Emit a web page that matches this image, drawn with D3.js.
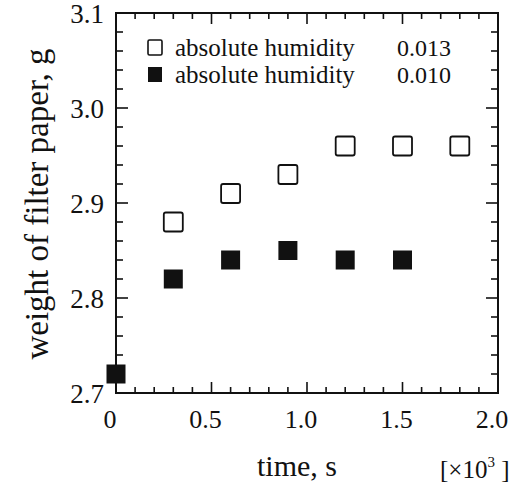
<!DOCTYPE html>
<html>
<head>
<meta charset="utf-8">
<script src="https://cdn.jsdelivr.net/npm/d3@7"></script>
<style>
  body { margin: 0; background: #fff; }
  text { font-family: "Liberation Serif", "Times New Roman", serif; fill: #111; }
</style>
</head>
<body>
<svg id="chart"></svg>
<script>
// data
const timeOpen = [0.3, 0.6, 0.9, 1.2, 1.5, 1.8];
const weightOpen = [2.88, 2.91, 2.93, 2.96, 2.96, 2.96];
const timeFilled = [0, 0.3, 0.6, 0.9, 1.2, 1.5];
const weightFilled = [2.72, 2.82, 2.84, 2.85, 2.84, 2.84];
const xTickLabels = ["0", "0.5", "1.0", "1.5", "2.0"];
const yTickLabels = ["2.7", "2.8", "2.9", "3.0", "3.1"];
const legendNames = ["absolute humidity", "absolute humidity"];
const legendValues = ["0.013", "0.010"];

const W = 523, H = 488;
const m = { left: 116, right: 25, top: 13, bottom: 95 };

const svg = d3.select("#chart").attr("width", W).attr("height", H);

const x = d3.scaleLinear().domain([0, 2.0]).range([m.left, W - m.right]);
const y = d3.scaleLinear().domain([2.7, 3.1]).range([H - m.bottom, m.top]);

const x0 = x.range()[0], x1 = x.range()[1];
const y0 = y.range()[0], y1 = y.range()[1];

// ----------------------- ticks (inward, on all four sides)
const xMinor = d3.range(0, 2.0001, 0.1);
const yMinor = d3.range(2.7, 3.1001, 0.02);
const isMajorX = v => Math.abs(v * 2 - Math.round(v * 2)) < 1e-6;
const isMajorY = v => Math.abs(v * 10 - Math.round(v * 10)) < 1e-6;

const ticks = svg.append("g").attr("stroke", "#111").attr("stroke-width", 1.6);

ticks.selectAll(".xb").data(xMinor).join("line")
  .attr("x1", d => x(d)).attr("x2", d => x(d))
  .attr("y1", y0).attr("y2", d => y0 - (isMajorX(d) ? 11 : 6));
ticks.selectAll(".xt").data(xMinor).join("line")
  .attr("x1", d => x(d)).attr("x2", d => x(d))
  .attr("y1", y1).attr("y2", d => y1 + (isMajorX(d) ? 11 : 6));
ticks.selectAll(".yl").data(yMinor).join("line")
  .attr("y1", d => y(d)).attr("y2", d => y(d))
  .attr("x1", x0).attr("x2", d => x0 + (isMajorY(d) ? 12 : 7));
ticks.selectAll(".yr").data(yMinor).join("line")
  .attr("y1", d => y(d)).attr("y2", d => y(d))
  .attr("x1", x1).attr("x2", d => x1 - (isMajorY(d) ? 12 : 7));

// frame
svg.append("rect")
  .attr("x", x0).attr("y", y1)
  .attr("width", x1 - x0).attr("height", y0 - y1)
  .attr("fill", "none").attr("stroke", "#111").attr("stroke-width", 2);

// ----------------------- tick labels
svg.append("g").selectAll("text").data(xTickLabels).join("text")
  .attr("x", d => x(+d) - 6)
  .attr("y", y0 + 35)
  .attr("text-anchor", "middle")
  .style("font-size", "26px")
  .text(d => d);

svg.append("g").selectAll("text").data(yTickLabels).join("text")
  .attr("x", x0 - 12)
  .attr("y", d => y(+d) + 10)
  .attr("text-anchor", "end")
  .style("font-size", "27px")
  .text(d => d);

// ----------------------- axis titles
svg.append("text")
  .attr("transform", `translate(48, ${(y0 + y1) / 2 + 1}) rotate(-90)`)
  .attr("text-anchor", "middle")
  .style("font-size", "33px")
  .text("weight of filter paper, g");

svg.append("text")
  .attr("x", 297).attr("y", 476)
  .attr("text-anchor", "middle")
  .style("font-size", "30px")
  .text("time, s");

const unit = svg.append("text")
  .attr("x", 440).attr("y", 478)
  .style("font-size", "25px");
unit.append("tspan").text("[×10");
unit.append("tspan").attr("dy", -11).style("font-size", "15px").text("3");
unit.append("tspan").attr("dy", 11).text(" ]");

// ----------------------- points
const sq = 19;
svg.append("g").selectAll("rect").data(timeOpen).join("rect")
  .attr("x", (d) => x(d) - sq / 2)
  .attr("y", (d, i) => y(weightOpen[i]) - sq / 2)
  .attr("width", sq).attr("height", sq).attr("rx", 2)
  .attr("fill", "#fff").attr("stroke", "#111").attr("stroke-width", 1.8);

svg.append("g").selectAll("rect").data(timeFilled).join("rect")
  .attr("x", (d) => x(d) - sq / 2)
  .attr("y", (d, i) => y(weightFilled[i]) - sq / 2)
  .attr("width", sq).attr("height", sq)
  .attr("fill", "#111");

// ----------------------- legend
const lg = svg.append("g");
legendNames.forEach((name, i) => {
  const yy = 56 + i * 27;
  lg.append("rect")
    .attr("x", 148).attr("y", yy - 16)
    .attr("width", 14).attr("height", 15).attr("rx", i === 0 ? 1.5 : 0)
    .attr("fill", i === 0 ? "#fff" : "#111")
    .attr("stroke", "#111").attr("stroke-width", i === 0 ? 1.6 : 0);
  lg.append("text").attr("x", 175).attr("y", yy)
    .style("font-size", "25px").text(name);
  lg.append("text").attr("x", 397).attr("y", yy)
    .style("font-size", "24px").text(legendValues[i]);
});
</script>
</body>
</html>
